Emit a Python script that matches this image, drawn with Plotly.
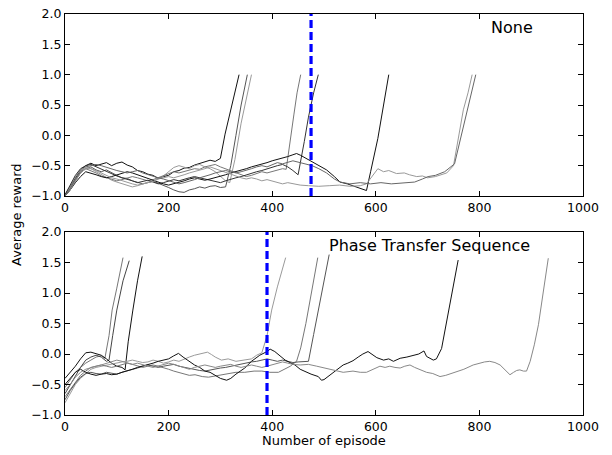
import plotly.graph_objects as go

# ---------------- data ----------------
x_ticks = [0, 200, 400, 600, 800, 1000]
y_ticks = [-1.0, -0.5, 0.0, 0.5, 1.0, 1.5, 2.0]
panel_titles = ["None", "Phase Transfer Sequence"]
x_label = "Number of episode"
y_label = "Average reward"
transfer_episode = [475, 390]  # dashed vertical markers (top, bottom)

# ---- top panel ("None") ----
top_A_x = list(range(0, 310, 10)) + [309, 321, 336]
top_A_y = [-0.98, -0.84, -0.7, -0.57, -0.5, -0.46, -0.5, -0.47, -0.45, -0.5,
           -0.46, -0.44, -0.49, -0.52, -0.58, -0.6, -0.64, -0.66, -0.71, -0.68,
           -0.66, -0.6, -0.58, -0.54, -0.53, -0.49, -0.46, -0.44, -0.41, -0.43,
           -0.38, 0.02, 0.47, 1.0]

top_B_x = list(range(0, 320, 10)) + [320, 330, 340, 352]
top_B_y = [-1.0, -0.9, -0.75, -0.62, -0.55, -0.52, -0.57, -0.6, -0.57, -0.62,
           -0.66, -0.7, -0.71, -0.75, -0.78, -0.8, -0.78, -0.76, -0.79, -0.82,
           -0.86, -0.9, -0.93, -0.94, -0.9, -0.88, -0.85, -0.87, -0.84, -0.83,
           -0.86, -0.85, -0.5, 0.0, 0.5, 1.0]

top_C_x = list(range(0, 320, 10)) + [318, 328, 340, 350, 360]
top_C_y = [-1.0, -0.85, -0.68, -0.57, -0.52, -0.55, -0.6, -0.64, -0.7, -0.74,
           -0.77, -0.8, -0.82, -0.85, -0.83, -0.8, -0.78, -0.74, -0.72, -0.67,
           -0.6, -0.53, -0.5, -0.53, -0.55, -0.5, -0.48, -0.52, -0.55, -0.6,
           -0.68, -0.75, -0.78, -0.4, 0.2, 0.6, 1.0]

top_D_x = list(range(0, 430, 10)) + [427, 434, 442, 448, 455]
top_D_y = [-1.0, -0.88, -0.72, -0.6, -0.55, -0.58, -0.62, -0.67, -0.7, -0.72,
           -0.75, -0.73, -0.7, -0.68, -0.7, -0.72, -0.75, -0.73, -0.7, -0.66,
           -0.63, -0.6, -0.62, -0.6, -0.58, -0.55, -0.56, -0.52, -0.5, -0.48,
           -0.52, -0.55, -0.58, -0.62, -0.65, -0.68, -0.66, -0.63, -0.6, -0.62,
           -0.6, -0.57, -0.55, -0.56, -0.1, 0.35, 0.7, 1.0]

top_E_x = list(range(0, 460, 10)) + [462, 470, 480, 489]
top_E_y = [-0.98, -0.82, -0.66, -0.55, -0.5, -0.48, -0.52, -0.55, -0.6, -0.63,
           -0.67, -0.7, -0.72, -0.75, -0.78, -0.76, -0.74, -0.77, -0.8, -0.78,
           -0.75, -0.73, -0.75, -0.72, -0.7, -0.68, -0.7, -0.72, -0.75, -0.77,
           -0.78, -0.75, -0.72, -0.7, -0.68, -0.65, -0.62, -0.6, -0.58, -0.55,
           -0.52, -0.5, -0.48, -0.52, -0.58, -0.65, -0.1, 0.3, 0.7, 1.0]

top_F_x = list(range(0, 450, 10)) + [447, 455, 465, 477, 490, 505, 520, 531, 545, 555,
                                       566, 575, 582, 590, 604, 615, 625]
top_F_y = [-1.0, -0.9, -0.78, -0.68, -0.6, -0.62, -0.65, -0.68, -0.7, -0.68,
           -0.65, -0.62, -0.6, -0.62, -0.65, -0.68, -0.72, -0.75, -0.78, -0.8,
           -0.82, -0.8, -0.78, -0.75, -0.72, -0.7, -0.72, -0.74, -0.72, -0.7,
           -0.68, -0.65, -0.62, -0.6, -0.58, -0.55, -0.52, -0.5, -0.48, -0.45,
           -0.42, -0.4, -0.38, -0.35, -0.32,
           -0.3, -0.33, -0.38, -0.43, -0.5, -0.57, -0.68, -0.77, -0.8, -0.83,
           -0.85, -0.88, -0.91, -0.6, -0.05, 0.5, 1.0]

top_G_x = list(range(0, 450, 10)) + [454, 470, 490, 510, 530, 550, 570, 582, 595, 604,
                                       615, 625, 640, 655, 665, 679, 690, 700, 715, 725,
                                       737, 750, 760, 769, 778, 786]
top_G_y = [-1.0, -0.9, -0.75, -0.62, -0.55, -0.55, -0.58, -0.62, -0.66, -0.7,
           -0.72, -0.75, -0.78, -0.8, -0.82, -0.8, -0.78, -0.76, -0.72, -0.7,
           -0.68, -0.7, -0.68, -0.65, -0.62, -0.6, -0.58, -0.55, -0.52, -0.55,
           -0.58, -0.62, -0.65, -0.68, -0.7, -0.72, -0.7, -0.72, -0.75, -0.73,
           -0.75, -0.77, -0.8, -0.78, -0.8,
           -0.82, -0.83, -0.84, -0.83, -0.82, -0.84, -0.83, -0.8, -0.65, -0.55,
           -0.6, -0.58, -0.63, -0.62, -0.65, -0.68, -0.67, -0.7, -0.68, -0.65,
           -0.62, -0.5, 0.0, 0.42, 0.7, 1.0]

top_H_x = list(range(0, 450, 10)) + [454, 465, 477, 490, 505, 520, 531, 550, 570, 590,
                                       610, 630, 650, 675, 690, 701, 715, 733, 752, 765,
                                       775, 785, 793]
top_H_y = [-1.0, -0.88, -0.73, -0.6, -0.52, -0.5, -0.48, -0.5, -0.53, -0.55,
           -0.58, -0.6, -0.62, -0.6, -0.58, -0.62, -0.65, -0.68, -0.7, -0.72,
           -0.75, -0.78, -0.8, -0.78, -0.76, -0.73, -0.7, -0.68, -0.65, -0.62,
           -0.6, -0.58, -0.6, -0.62, -0.6, -0.58, -0.55, -0.52, -0.5, -0.52,
           -0.48, -0.45, -0.47, -0.45, -0.42,
           -0.45, -0.48, -0.5, -0.55, -0.62, -0.72, -0.77, -0.8, -0.78, -0.8,
           -0.78, -0.8, -0.79, -0.77, -0.72, -0.68, -0.66, -0.6, -0.47, 0.0,
           0.4, 0.75, 1.0]

# ---- bottom panel ("Phase Transfer Sequence") ----
bot_1_x = [0, 10, 20, 30, 40, 50, 60, 70, 77, 85, 91, 100, 112]
bot_1_y = [-0.55, -0.42, -0.3, -0.22, -0.15, -0.1, -0.05, -0.03, -0.07, 0.3, 0.72, 1.08, 1.58]

bot_2_x = [0, 10, 20, 30, 40, 50, 60, 70, 80, 85, 92, 100, 112, 124]
bot_2_y = [-0.65, -0.5, -0.35, -0.22, -0.1, -0.05, -0.02, -0.05, -0.12, -0.1, 0.3, 0.72, 1.2, 1.53]

bot_3_x = [0, 10, 20, 30, 40, 50, 60, 70, 80, 90, 100, 110, 116, 122, 131, 140, 149]
bot_3_y = [-0.4, -0.3, -0.2, -0.08, 0.02, 0.03, 0.0, -0.02, -0.08, -0.15, -0.2, -0.22,
           -0.26, 0.2, 0.72, 1.2, 1.6]

bot_4_x = list(range(0, 260, 10)) + [264, 275, 283, 290, 302, 315, 330, 345, 360, 370,
                                       380, 390, 399, 410, 426]
bot_4_y = [-0.8, -0.65, -0.5, -0.4, -0.32, -0.25, -0.22, -0.2, -0.18, -0.17,
           -0.15, -0.13, -0.12, -0.1, -0.12, -0.14, -0.13, -0.1, -0.12, -0.15,
           -0.13, -0.1, -0.12, -0.08, -0.05, -0.02,
           0.01, 0.03, -0.01, -0.05, -0.1, -0.08, -0.12, -0.1, -0.08, -0.02,
           0.02, 0.3, 0.72, 1.1, 1.58]

bot_5_x = list(range(0, 250, 10)) + [251, 265, 277, 290, 300, 315, 330, 347, 365, 380,
                                       395, 412, 425, 435, 447, 455, 465, 475, 488]
bot_5_y = [-0.7, -0.58, -0.45, -0.35, -0.28, -0.22, -0.2, -0.18, -0.2, -0.22,
           -0.2, -0.18, -0.15, -0.17, -0.2, -0.22, -0.2, -0.18, -0.2, -0.22,
           -0.25, -0.28, -0.3, -0.32, -0.35,
           -0.34, -0.37, -0.38, -0.36, -0.34, -0.32, -0.3, -0.3, -0.28, -0.28,
           -0.3, -0.3, -0.25, -0.2, -0.12, 0.1, 0.5, 1.0, 1.58]

bot_6_x = list(range(0, 480, 10)) + [480, 490, 500, 510]
bot_6_y = [-0.75, -0.6, -0.48, -0.38, -0.32, -0.3, -0.32, -0.33, -0.3, -0.32,
           -0.33, -0.3, -0.28, -0.25, -0.23, -0.2, -0.18, -0.2, -0.22, -0.2,
           -0.18, -0.17, -0.2, -0.22, -0.24, -0.25, -0.27, -0.28, -0.26, -0.25,
           -0.23, -0.22, -0.2, -0.18, -0.16, -0.15, -0.13, -0.12, -0.1, -0.08,
           -0.1, -0.12, -0.1, -0.12, -0.14, -0.13, -0.12, -0.12,
           0.32, 0.76, 1.2, 1.63]

bot_7_x = list(range(0, 220, 10)) + [219, 228, 240, 250, 260, 270, 280, 290, 300, 312,
                                       320, 330, 347, 360, 376, 390, 396, 405, 415, 425,
                                       434, 444, 454, 463, 475, 489, 495, 500, 512, 525,
                                       537, 546, 556, 566, 575, 585, 594, 602, 615, 625,
                                       634, 647, 660, 672, 683, 693, 698, 711, 717, 727,
                                       740, 750, 759]
bot_7_y = [-0.5, -0.4, -0.3, -0.25, -0.3, -0.33, -0.35, -0.33, -0.32, -0.34,
           -0.33, -0.3, -0.28, -0.25, -0.22, -0.2, -0.18, -0.15, -0.12, -0.1,
           -0.08, -0.03,
           0.01, -0.05, -0.12, -0.18, -0.22, -0.28, -0.3, -0.35, -0.4, -0.43,
           -0.4, -0.33, -0.23, -0.12, -0.02, 0.04, 0.08, 0.04, -0.03, -0.1,
           -0.14, -0.18, -0.25, -0.29, -0.33, -0.37, -0.43, -0.42, -0.34, -0.25,
           -0.18, -0.15, -0.11, -0.05, 0.0, 0.04, -0.02, -0.06, -0.1, -0.08,
           -0.12, -0.07, -0.05, -0.02, 0.0, 0.05, -0.04, -0.1, -0.08, 0.09,
           0.69, 1.1, 1.54]

bot_8_x = list(range(0, 450, 10)) + [454, 470, 486, 500, 518, 537, 556, 570, 582, 595,
                                       608, 618, 627, 637, 647, 656, 666, 675, 686, 698,
                                       710, 724, 735, 746, 756, 770, 788, 800, 810, 820,
                                       830, 840, 850, 859, 866, 872, 878, 885, 891, 898,
                                       906, 914, 923, 933]
bot_8_y = [-0.6, -0.5, -0.38, -0.3, -0.25, -0.22, -0.2, -0.18, -0.15, -0.12,
           -0.1, -0.12, -0.15, -0.17, -0.15, -0.18, -0.2, -0.22, -0.2, -0.18,
           -0.15, -0.17, -0.2, -0.22, -0.25, -0.22, -0.2, -0.18, -0.2, -0.22,
           -0.2, -0.18, -0.17, -0.2, -0.22, -0.2, -0.18, -0.2, -0.22, -0.2,
           -0.18, -0.15, -0.13, -0.15, -0.17,
           -0.18, -0.17, -0.2, -0.23, -0.26, -0.3, -0.28, -0.3, -0.3, -0.25,
           -0.2, -0.22, -0.2, -0.22, -0.23, -0.2, -0.18, -0.22, -0.26, -0.3,
           -0.32, -0.37, -0.35, -0.32, -0.3, -0.25, -0.18, -0.15, -0.13, -0.12,
           -0.14, -0.18, -0.26, -0.34, -0.3, -0.27, -0.26, -0.28, -0.28, -0.12,
           0.15, 0.48, 1.0, 1.57]

top_curves = [
    (top_A_x, top_A_y, "#111111"), (top_B_x, top_B_y, "#555555"), (top_C_x, top_C_y, "#9a9a9a"),
    (top_D_x, top_D_y, "#777777"), (top_E_x, top_E_y, "#333333"), (top_F_x, top_F_y, "#111111"),
    (top_G_x, top_G_y, "#999999"), (top_H_x, top_H_y, "#666666"),
]
bot_curves = [
    (bot_1_x, bot_1_y, "#777777"), (bot_2_x, bot_2_y, "#444444"), (bot_3_x, bot_3_y, "#111111"),
    (bot_4_x, bot_4_y, "#9a9a9a"), (bot_5_x, bot_5_y, "#777777"), (bot_6_x, bot_6_y, "#555555"),
    (bot_7_x, bot_7_y, "#111111"), (bot_8_x, bot_8_y, "#888888"),
]
for xs, ys, _ in top_curves + bot_curves:
    assert len(xs) == len(ys), (len(xs), len(ys))

# ---------------- figure ----------------
W, H = 612, 455


def fx(p):
    return p / W


def fy(p):
    return 1 - p / H


fig = go.Figure()

for xs, ys, c in top_curves:
    fig.add_trace(go.Scatter(x=xs, y=ys, mode="lines", line=dict(color=c, width=1),
                             xaxis="x", yaxis="y", showlegend=False, hoverinfo="skip"))
for xs, ys, c in bot_curves:
    fig.add_trace(go.Scatter(x=xs, y=ys, mode="lines", line=dict(color=c, width=1),
                             xaxis="x2", yaxis="y2", showlegend=False, hoverinfo="skip"))

# dashed transfer markers
for ep, xa, ya in [(transfer_episode[0], "x", "y"), (transfer_episode[1], "x2", "y2")]:
    fig.add_trace(go.Scatter(x=[ep, ep], y=[y_ticks[0], y_ticks[-1]], mode="lines",
                             line=dict(color="#0000ff", width=3.2, dash="8px,4px"),
                             xaxis=xa, yaxis=ya, showlegend=False, hoverinfo="skip"))

font = dict(family="DejaVu Sans", size=12.5, color="black")
x_dom = [fx(65), fx(583)]
axis_common = dict(showgrid=False, zeroline=False, showline=True, linecolor="black", linewidth=1,
                   mirror="allticks", ticks="inside", ticklen=5, tickwidth=1, tickcolor="black",
                   tickfont=font, automargin=False, ticklabeloverflow="allow")
fig.update_layout(
    width=W, height=H, margin=dict(l=0, r=0, t=0, b=0, pad=0, autoexpand=False),
    paper_bgcolor="white", plot_bgcolor="white",
    xaxis=dict(domain=x_dom, range=[0, 1000], tickvals=x_ticks, anchor="y", **axis_common),
    yaxis=dict(domain=[fy(196), fy(14)], range=[-1.0, 2.0], tickvals=y_ticks,
               tickformat=".1f", anchor="x", **axis_common),
    xaxis2=dict(domain=x_dom, range=[0, 1000], tickvals=x_ticks, anchor="y2", **axis_common),
    yaxis2=dict(domain=[fy(415), fy(232)], range=[-1.0, 2.0], tickvals=y_ticks,
                tickformat=".1f", anchor="x2", **axis_common),
    annotations=[
        dict(text=panel_titles[0], xref="paper", yref="paper", x=fx(512), y=fy(27),
             xanchor="center", yanchor="middle", showarrow=False,
             font=dict(family="DejaVu Sans", size=16, color="black")),
        dict(text=panel_titles[1], xref="paper", yref="paper", x=fx(430), y=fy(246),
             xanchor="center", yanchor="middle", showarrow=False,
             font=dict(family="DejaVu Sans", size=16, color="black")),
        dict(text=x_label, xref="paper", yref="paper", x=fx(324), y=fy(440),
             xanchor="center", yanchor="middle", showarrow=False,
             font=dict(family="DejaVu Sans", size=13, color="black")),
        dict(text=y_label, xref="paper", yref="paper", x=fx(16), y=fy(215),
             xanchor="center", yanchor="middle", textangle=-90, showarrow=False,
             font=dict(family="DejaVu Sans", size=13, color="black")),
    ],
)

# remove the default 8px page margin so the 612x455 figure fills the window exactly
fig.write_html("out.html", config={"displayModeBar": False, "staticPlot": True},
               post_script="document.body.style.margin='0px';document.body.style.overflow='hidden';")
